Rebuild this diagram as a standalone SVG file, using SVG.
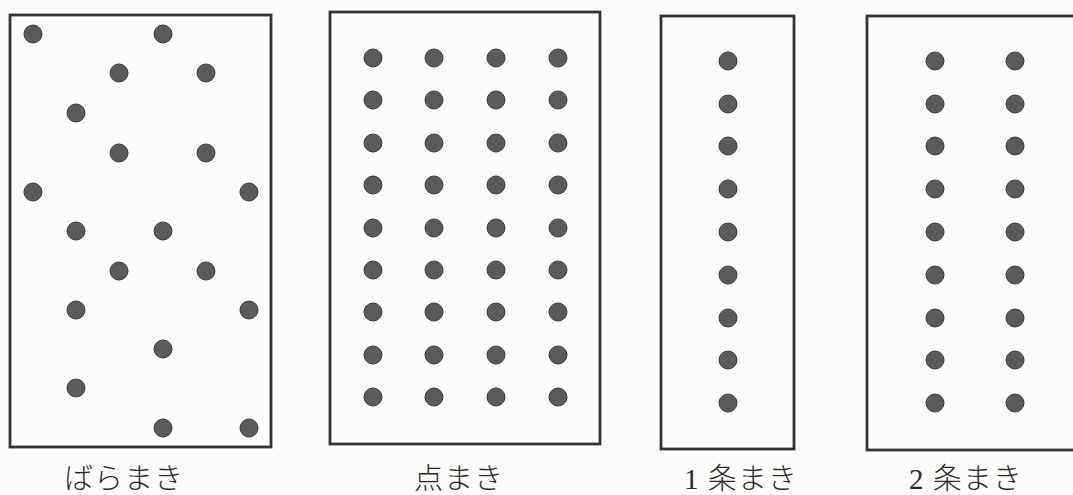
<svg xmlns="http://www.w3.org/2000/svg" width="1073" height="495" viewBox="0 0 1073 495">
<style>
.box{fill:none;stroke:#333;stroke-width:2.8}
.dot{fill:#5a5a5a;stroke:#3a3a3a;stroke-width:1}
.lbl{font-family:"Liberation Serif","Noto Sans CJK JP",serif;font-size:29px;font-weight:300;fill:#2a2a2a;text-anchor:middle;letter-spacing:1px}
</style>
<rect width="1073" height="495" fill="#fcfcfb"/>
<g id="baramaki">
<rect class="box" x="10" y="15" width="261" height="432"/>
<circle class="dot" cx="33" cy="34" r="9"/>
<circle class="dot" cx="163" cy="34" r="9"/>
<circle class="dot" cx="119" cy="73" r="9"/>
<circle class="dot" cx="206" cy="73" r="9"/>
<circle class="dot" cx="76" cy="113" r="9"/>
<circle class="dot" cx="119" cy="153" r="9"/>
<circle class="dot" cx="206" cy="153" r="9"/>
<circle class="dot" cx="33" cy="192" r="9"/>
<circle class="dot" cx="249" cy="192" r="9"/>
<circle class="dot" cx="76" cy="231" r="9"/>
<circle class="dot" cx="163" cy="231" r="9"/>
<circle class="dot" cx="119" cy="271" r="9"/>
<circle class="dot" cx="206" cy="271" r="9"/>
<circle class="dot" cx="76" cy="310" r="9"/>
<circle class="dot" cx="249" cy="310" r="9"/>
<circle class="dot" cx="163" cy="349" r="9"/>
<circle class="dot" cx="76" cy="388" r="9"/>
<circle class="dot" cx="163" cy="428" r="9"/>
<circle class="dot" cx="249" cy="428" r="9"/>
<text class="lbl" x="124" y="489">ばらまき</text>
</g>
<g id="tenmaki">
<rect class="box" x="330" y="12" width="270" height="432"/>
<g id="tenmaki-dots">
<circle class="dot" cx="373" cy="58" r="9"/><circle class="dot" cx="434" cy="58" r="9"/><circle class="dot" cx="496" cy="58" r="9"/><circle class="dot" cx="558" cy="58" r="9"/>
<circle class="dot" cx="373" cy="100" r="9"/><circle class="dot" cx="434" cy="100" r="9"/><circle class="dot" cx="496" cy="100" r="9"/><circle class="dot" cx="558" cy="100" r="9"/>
<circle class="dot" cx="373" cy="143" r="9"/><circle class="dot" cx="434" cy="143" r="9"/><circle class="dot" cx="496" cy="143" r="9"/><circle class="dot" cx="558" cy="143" r="9"/>
<circle class="dot" cx="373" cy="185" r="9"/><circle class="dot" cx="434" cy="185" r="9"/><circle class="dot" cx="496" cy="185" r="9"/><circle class="dot" cx="558" cy="185" r="9"/>
<circle class="dot" cx="373" cy="228" r="9"/><circle class="dot" cx="434" cy="228" r="9"/><circle class="dot" cx="496" cy="228" r="9"/><circle class="dot" cx="558" cy="228" r="9"/>
<circle class="dot" cx="373" cy="270" r="9"/><circle class="dot" cx="434" cy="270" r="9"/><circle class="dot" cx="496" cy="270" r="9"/><circle class="dot" cx="558" cy="270" r="9"/>
<circle class="dot" cx="373" cy="312" r="9"/><circle class="dot" cx="434" cy="312" r="9"/><circle class="dot" cx="496" cy="312" r="9"/><circle class="dot" cx="558" cy="312" r="9"/>
<circle class="dot" cx="373" cy="355" r="9"/><circle class="dot" cx="434" cy="355" r="9"/><circle class="dot" cx="496" cy="355" r="9"/><circle class="dot" cx="558" cy="355" r="9"/>
<circle class="dot" cx="373" cy="397" r="9"/><circle class="dot" cx="434" cy="397" r="9"/><circle class="dot" cx="496" cy="397" r="9"/><circle class="dot" cx="558" cy="397" r="9"/>
</g>
<text class="lbl" x="459" y="489">点まき</text>
</g>
<g id="ichijomaki">
<rect class="box" x="661" y="16" width="133" height="433"/>
<circle class="dot" cx="728" cy="61" r="9"/>
<circle class="dot" cx="728" cy="104" r="9"/>
<circle class="dot" cx="728" cy="146" r="9"/>
<circle class="dot" cx="728" cy="189" r="9"/>
<circle class="dot" cx="728" cy="232" r="9"/>
<circle class="dot" cx="728" cy="275" r="9"/>
<circle class="dot" cx="728" cy="318" r="9"/>
<circle class="dot" cx="728" cy="360" r="9"/>
<circle class="dot" cx="728" cy="403" r="9"/>
<text class="lbl" x="741" y="489">1 条まき</text>
</g>
<g id="nijomaki">
<rect class="box" x="867" y="16" width="220" height="434"/>
<circle class="dot" cx="935" cy="61" r="9"/><circle class="dot" cx="1015" cy="61" r="9"/>
<circle class="dot" cx="935" cy="104" r="9"/><circle class="dot" cx="1015" cy="104" r="9"/>
<circle class="dot" cx="935" cy="146" r="9"/><circle class="dot" cx="1015" cy="146" r="9"/>
<circle class="dot" cx="935" cy="189" r="9"/><circle class="dot" cx="1015" cy="189" r="9"/>
<circle class="dot" cx="935" cy="232" r="9"/><circle class="dot" cx="1015" cy="232" r="9"/>
<circle class="dot" cx="935" cy="275" r="9"/><circle class="dot" cx="1015" cy="275" r="9"/>
<circle class="dot" cx="935" cy="318" r="9"/><circle class="dot" cx="1015" cy="318" r="9"/>
<circle class="dot" cx="935" cy="360" r="9"/><circle class="dot" cx="1015" cy="360" r="9"/>
<circle class="dot" cx="935" cy="403" r="9"/><circle class="dot" cx="1015" cy="403" r="9"/>
<text class="lbl" x="966" y="489">2 条まき</text>
</g>
</svg>
